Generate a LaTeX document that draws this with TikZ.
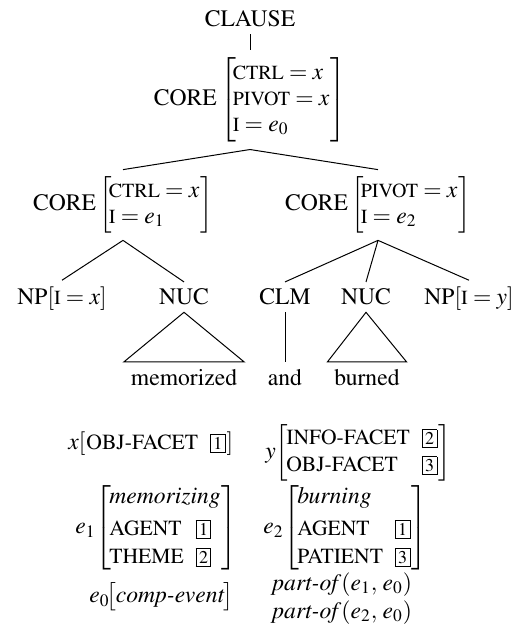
\documentclass[tikz,border=0pt]{standalone}
\usepackage{amsmath}
\usepackage[T1]{fontenc}
\usepackage{mathptmx}
\usetikzlibrary{positioning}
\newcommand\attr[1]{\text{\fontsize{10}{12}\selectfont #1}}
\newcommand\feat[1]{\text{\fontsize{10.8}{13}\selectfont #1}}
\newcommand\tagbox[1]{\text{\setlength{\fboxsep}{1.2pt}\setlength{\fboxrule}{0.45pt}\fbox{\fontsize{9}{9}\selectfont #1}}}
\newcommand\avmflat[1]{\!\left[\hspace{0.5pt}#1\hspace{0.5pt}\right]}
\newcommand\avmbig[1]{\!\bigl[\hspace{-0.5pt}#1\hspace{-0.5pt}\bigr]}
\newcommand\avmone[1]{\!\left[\begin{array}{@{\hspace{-1.5pt}}l@{\hspace{0.5pt}}}#1\end{array}\right]}
\newcommand\avmtwo[1]{\!\left[\begin{array}{@{\hspace{-1pt}}l@{\hspace{6pt}}l@{\hspace{0.5pt}}}#1\end{array}\right]}
\tikzset{
  lbl/.style={inner sep=0.3333em},
  avm/.style={inner sep=0pt, anchor=west},
  branch/.style={line width=0.5pt},
}

\begin{document}
\begin{tikzpicture}[x=0.5pt, y=-0.5pt, font=\fontsize{11.8}{13}\selectfont]
\useasboundingbox (0,0) rectangle (519,624);
	% tree
	\node[lbl, anchor=base] (clause) at (250,27) {CLAUSE};
	\node[lbl] (coretop) at (250,100) {CORE $\delimitershortfall=-3pt\avmone{\attr{CTRL} = x\\ \attr{PIVOT} = x\\ \attr{I} = e_0}$};
	\node[lbl] (coreleft) at (123,205) {CORE $\avmone{\attr{CTRL} = x\\ \attr{I} = e_1}$};
	\node[lbl] (coreright) at (378,205) {CORE $\avmone{\attr{PIVOT} = x\\ \attr{I} = e_2}$};
	
	\node[lbl, anchor=base] (npx) at (62,305) {NP$[\attr{I} = x]$};
	\node[lbl, anchor=base] (nucleft) at (184,305) {NUC};
	\node[lbl, anchor=base] (clm) at (285,305) {CLM};
	\node[lbl, anchor=base] (nucright) at (366,305) {NUC};
	\node[lbl, anchor=base] (npy) at (469,305) {NP$[\attr{I} = y]$};
	
	\node[lbl, anchor=base] (memorized) at (184,385) {memorized};
	\node[lbl, anchor=base] (and) at (285,385) {and};
	\node[lbl, anchor=base] (burned) at (367,385) {burned};
	
	\draw[branch] (clause) -- (coretop);
	\draw[branch] (coretop.south) -- (coreleft.north);
	\draw[branch] (coretop.south) -- (coreright.north);
	\draw[branch] (coreleft.south) -- (npx.north);
	\draw[branch] (coreleft.south) -- (nucleft.north);
	\draw[branch] (coreright.south) -- (clm.north);
	\draw[branch] (coreright.south) -- (nucright.north);
	\draw[branch] (coreright.south) -- (npy.north);
	\draw[branch] (nucleft.south) -- (memorized.north west) -- (memorized.north east) -- cycle;
	\draw[branch] (clm.south) -- (and.north);
	\draw[branch] (nucright.south) -- (burned.north west) -- (burned.north east) -- cycle;
	
	% semantic representation
	\node[avm] (avmx) at (68,444) {$x\avmflat{\feat{OBJ-FACET}\hspace{6pt}\tagbox{1}}$};
	\node[avm] (avmy) at (265,453) {$y\avmtwo{\feat{INFO-FACET} & \tagbox{2}\\[0.5pt] \feat{OBJ-FACET} & \tagbox{3}}$};
	\node[avm] (avmeone) at (75,528) {$e_1\avmtwo{\multicolumn{2}{@{\hspace{-1pt}}l@{\hspace{0.5pt}}}{\textit{memorizing}}\\[3pt] \feat{AGENT} & \tagbox{1}\\[1pt] \feat{THEME} & \tagbox{2}}$};
	\node[avm] (avmetwo) at (263,528) {$e_2\avmtwo{\multicolumn{2}{@{\hspace{-1pt}}l@{\hspace{0.5pt}}}{\textit{burning}}\\[3pt] \feat{AGENT} & \tagbox{1}\\[1pt] \feat{PATIENT} & \tagbox{3}}$};
	\node[avm] (avmezero) at (89,597) {$e_0\avmbig{\textit{comp-event}}$};
	\node[avm, anchor=base west] (partofone) at (272,590) {\textit{part-of}$(e_1,\, e_0)$};
	\node[avm, anchor=base west] (partoftwo) at (272,618) {\textit{part-of}$(e_2,\, e_0)$};
\end{tikzpicture}
\end{document}
